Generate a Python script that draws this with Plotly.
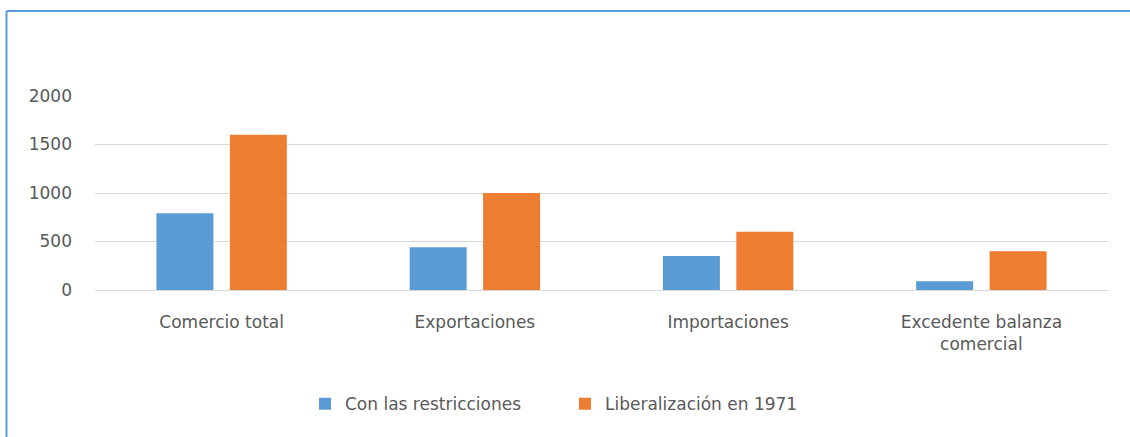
import plotly.graph_objects as go

categories = ["Comercio total", "Exportaciones", "Importaciones", "Excedente balanza<br>comercial"]
con_restricciones = [790, 440, 350, 90]
liberalizacion_1971 = [1600, 1000, 600, 400]
y_ticks = [0, 500, 1000, 1500, 2000]

W, H = 1130, 437
ML, MR, MT, MB = 95, 22, 96, 147

BLUE = "#5B9BD5"
ORANGE = "#ED7D31"
TEXT = "#595959"
GRID = "#D9D9D9"
FONT = "DejaVu Sans, Liberation Sans, sans-serif"
FS = 17

fig = go.Figure()
fig.add_trace(go.Bar(name="Con las restricciones", x=categories, y=con_restricciones,
                     marker=dict(color=BLUE, line=dict(width=0))))
fig.add_trace(go.Bar(name="Liberalización en 1971", x=categories, y=liberalizacion_1971,
                     marker=dict(color=ORANGE, line=dict(width=0))))

pw = W - ML - MR
ph = H - MT - MB
# outer frame of the chart (blue), expressed relative to the plot area
fx0 = (6.5 - ML) / pw
fy1 = 1 + (MT - 11) / ph
fig.add_shape(type="line", xref="paper", yref="paper", x0=fx0, x1=fx0, y0=-(MB + 5) / ph, y1=fy1,
              line=dict(color=BLUE, width=2))
fig.add_shape(type="line", xref="paper", yref="paper", x0=fx0, x1=1 + (MR + 5) / pw, y0=fy1, y1=fy1,
              line=dict(color=BLUE, width=2))

fig.update_layout(
    width=W, height=H,
    margin=dict(l=ML, r=MR, t=MT, b=MB),
    paper_bgcolor="white", plot_bgcolor="white",
    barmode="group", bargap=0.42, bargroupgap=0.224,
    font=dict(family=FONT, size=FS, color=TEXT),
    showlegend=True,
    legend=dict(orientation="h", xref="container", x=0.5, xanchor="center",
                yref="container", y=0.075, yanchor="middle",
                font=dict(family=FONT, size=FS, color=TEXT),
                itemwidth=30, entrywidth=215, traceorder="normal"),
    xaxis=dict(showline=False, ticks="", showgrid=False, ticklabelstandoff=20,
               tickfont=dict(family=FONT, size=FS, color=TEXT)),
    yaxis=dict(range=[0, 2000], tickvals=y_ticks, showgrid=True, gridcolor=GRID, gridwidth=1,
               zeroline=True, zerolinecolor=GRID, zerolinewidth=1, showline=False, ticks="",
               ticklabelstandoff=22,
               tickfont=dict(family=FONT, size=FS, color=TEXT)),
)

fig.write_html("out.html")
